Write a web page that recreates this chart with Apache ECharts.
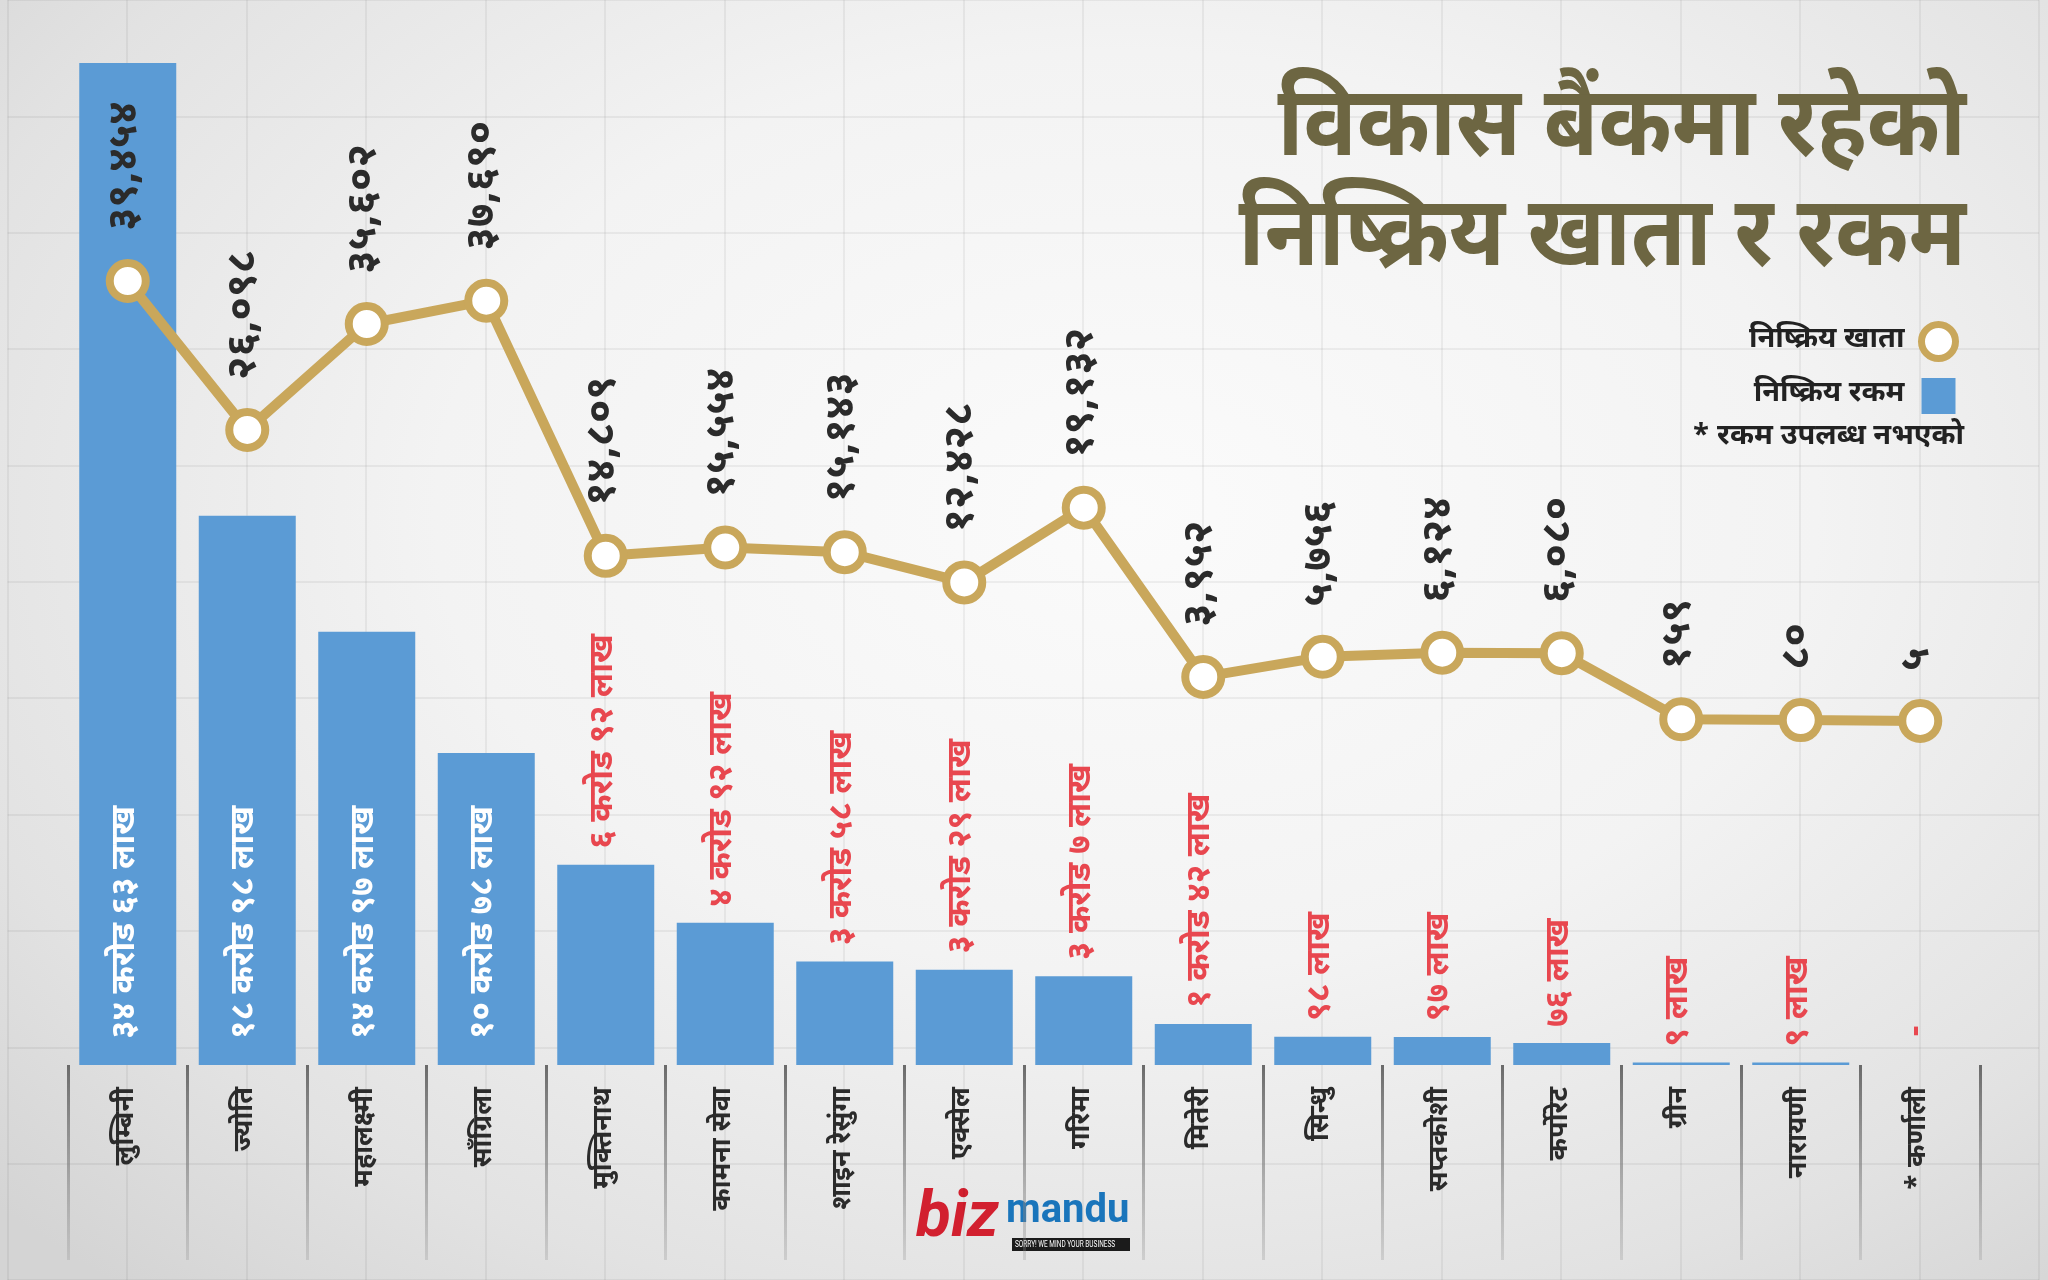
<!DOCTYPE html>
<html>
<head>
<meta charset="utf-8">
<title>विकास बैंकमा रहेको निष्क्रिय खाता र रकम</title>
<script src="https://cdn.jsdelivr.net/npm/echarts@6/dist/echarts.min.js"></script>
<style>
  html, body { margin: 0; padding: 0; }
  body {
    width: 2048px; height: 1280px; overflow: hidden;
    background: radial-gradient(ellipse 75% 80% at 55% 40%, #fbfbfb 0%, #f3f3f3 45%, #e2e2e2 80%, #d4d4d4 100%);
  }
  #main { width: 2048px; height: 1280px; }
</style>
</head>
<body>
<div id="main"></div>
<script type="text/javascript">
// बैंकहरु (x axis)
const banks = ['लुम्बिनी', 'ज्योति', 'महालक्ष्मी', 'साँग्रिला', 'मुक्तिनाथ', 'कामना सेवा', 'शाइन रेसुंगा', 'एक्सेल',
  'गरिमा', 'मितेरी', 'सिन्धु', 'सप्तकोशी', 'कर्पोरेट', 'ग्रीन', 'नारायणी', '* कर्णाली'];
// निष्क्रिय खाता (संख्या)
const accounts = [39454, 26098, 35602, 37690, 14809, 15554, 15143, 12428, 19132, 3952, 5756, 6124, 6080, 159, 80, 5];
// निष्क्रिय रकम (लाखमा) - कर्णालीको उपलब्ध छैन
const amountLakh = [3463, 1898, 1497, 1078, 692, 492, 358, 329, 307, 142, 98, 97, 76, 9, 9, null];

const FONT = "'Noto Sans Devanagari', 'Lohit Devanagari', 'Mukta', 'Noto Sans', sans-serif";
const GOLD = '#c9a75b';
const BLUE = '#5b9bd5';
const RED = '#e8474f';

const devDigits = '०१२३४५६७८९';
function dev(s) {
  return String(s).replace(/[0-9]/g, function (c) { return devDigits[+c]; });
}
function fmtAccounts(v) {
  return dev(v >= 1000 ? v.toLocaleString('en-US') : v);
}
function fmtAmount(v) {
  if (v == null) return '-';
  var crore = Math.floor(v / 100), lakh = v % 100;
  return crore > 0 ? dev(crore) + ' करोड ' + dev(lakh) + ' लाख' : dev(lakh) + ' लाख';
}

var barData = amountLakh.map(function (v, i) {
  var item = { value: v == null ? 0 : v };
  if (i < 4) {
    item.label = { position: 'insideBottom', distance: 26, color: '#ffffff' };
  }
  if (v == null) {
    item.label = { distance: 28 };
  }
  return item;
});

var myChart = echarts.init(document.getElementById('main'));
myChart.setOption({
  backgroundColor: 'transparent',
  animation: false,
  textStyle: { fontFamily: FONT },
  grid: [
    { left: 68, right: 68, top: 63, bottom: 215 },
    // पृष्ठभूमिको जाली
    { left: 7.5, top: -10.5, width: 119.5 * 17, height: 119.5 * 11 }
  ],
  legend: {
    orient: 'vertical',
    right: 84,
    top: 316,
    align: 'right',
    itemWidth: 34,
    itemHeight: 36,
    itemGap: 16,
    textStyle: { fontFamily: FONT, fontSize: 29, fontWeight: 'bold', color: '#222', padding: [0, 12, 0, 0] },
    data: [
      { name: 'निष्क्रिय खाता', icon: 'circle', itemStyle: { color: '#fff', borderColor: GOLD, borderWidth: 7 } },
      { name: 'निष्क्रिय रकम', icon: 'rect', itemStyle: { color: BLUE } }
    ]
  },
  xAxis: [
    {
      type: 'category',
      gridIndex: 0,
      data: banks,
      boundaryGap: true,
      axisLine: { show: false },
      axisTick: {
        show: true, interval: 0, length: 195,
        lineStyle: {
          width: 3,
          color: new echarts.graphic.LinearGradient(0, 1065, 0, 1262, [
            { offset: 0, color: '#6a6a6a' },
            { offset: 1, color: 'rgba(140,140,140,0.25)' }
          ], true)
        }
      },
      axisLabel: {
        interval: 0, rotate: 90, margin: 22,
        fontFamily: FONT, fontSize: 27, fontWeight: 'bold', color: '#2b2b2b'
      },
      splitLine: { show: false }
    },
    {
      type: 'value', gridIndex: 1, min: 0, max: 17, interval: 1,
      axisLine: { show: false }, axisTick: { show: false }, axisLabel: { show: false },
      splitLine: { show: true, lineStyle: { color: 'rgba(0,0,0,0.07)', width: 1.5 } }
    }
  ],
  yAxis: [
    { type: 'value', gridIndex: 0, min: 0, max: 3463, show: false },
    { type: 'value', gridIndex: 0, min: -30846, max: 59004, show: false },
    {
      type: 'value', gridIndex: 1, min: 0, max: 11, interval: 1,
      axisLine: { show: false }, axisTick: { show: false }, axisLabel: { show: false },
      splitLine: { show: true, lineStyle: { color: 'rgba(0,0,0,0.07)', width: 1.5 } }
    }
  ],
  series: [
    {
      name: 'निष्क्रिय रकम',
      type: 'bar',
      xAxisIndex: 0,
      yAxisIndex: 0,
      barWidth: 97,
      z: 2,
      itemStyle: { color: BLUE },
      label: {
        show: true,
        position: 'top',
        distance: 16,
        rotate: 90,
        align: 'left',
        verticalAlign: 'middle',
        fontFamily: FONT,
        fontSize: 33,
        fontWeight: 'bold',
        color: RED,
        formatter: function (p) { return fmtAmount(amountLakh[p.dataIndex]); }
      },
      data: barData
    },
    {
      name: 'निष्क्रिय खाता',
      type: 'line',
      xAxisIndex: 0,
      yAxisIndex: 1,
      z: 5,
      symbol: 'circle',
      symbolSize: 36,
      itemStyle: { color: '#ffffff', borderColor: GOLD, borderWidth: 8 },
      lineStyle: { color: GOLD, width: 10 },
      label: {
        show: true,
        position: 'top',
        distance: 28,
        rotate: 90,
        align: 'left',
        verticalAlign: 'middle',
        fontFamily: FONT,
        fontSize: 42,
        fontWeight: 'bold',
        color: '#2b2b2b',
        formatter: function (p) { return fmtAccounts(p.value); }
      },
      data: accounts
    }
  ],
  graphic: [
    {
      type: 'text', x: 1966, y: 88, scaleX: 0.9, z: 10,
      style: { text: 'विकास बैंकमा रहेको', font: 'bold 98px ' + FONT, fill: '#6d6642', align: 'right' }
    },
    {
      type: 'text', x: 1966, y: 198, scaleX: 0.9, z: 10,
      style: { text: 'निष्क्रिय खाता र रकम', font: 'bold 98px ' + FONT, fill: '#6d6642', align: 'right' }
    },
    {
      type: 'text', right: 84, top: 424, z: 10,
      style: { text: '* रकम उपलब्ध नभएको', font: 'bold 29px ' + FONT, fill: '#222' }
    },
    // bizmandu लोगो
    {
      type: 'group', left: 916, top: 1188, z: 10,
      children: [
        { type: 'text', x: 0, y: 0, style: { text: 'biz', font: 'italic bold 64px Roboto, sans-serif', fill: '#d2202f' } },
        { type: 'text', x: 90, y: 4, style: { text: 'mandu', font: 'bold 40px Roboto, sans-serif', fill: '#1a75bb' } },
        { type: 'rect', x: 96, y: 50, shape: { width: 118, height: 13 }, style: { fill: '#1b1b1b' } },
        { type: 'text', x: 99, y: 52, scaleX: 0.72, style: { text: 'SORRY! WE MIND YOUR BUSINESS', font: '9px Roboto, sans-serif', fill: '#fff' } }
      ]
    }
  ]
});
</script>
</body>
</html>
